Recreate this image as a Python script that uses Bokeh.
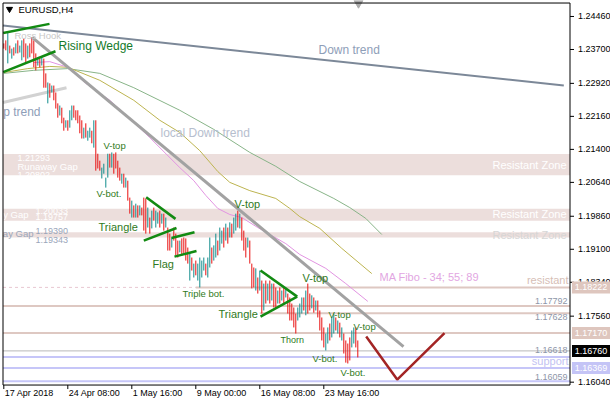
from bokeh.plotting import figure
from bokeh.models import ColumnDataSource, Range1d
from bokeh.core.properties import value
from bokeh.embed import file_html
from bokeh.resources import INLINE

# ---------------- data ----------------
symbol = "EURUSD,H4"

highs = [
    1.2384, 1.2391, 1.2409, 1.2379, 1.2372, 1.2375, 1.2384, 1.2391, 1.2379, 1.2391,
    1.2395, 1.2384, 1.2379, 1.2384, 1.2398, 1.2391, 1.2361, 1.2352, 1.2349, 1.2352,
    1.2349, 1.2315, 1.2294, 1.2292, 1.2287, 1.2287, 1.2271, 1.2246, 1.2241, 1.2236,
    1.2213, 1.2207, 1.2207, 1.2230, 1.2241, 1.2241, 1.2230, 1.2230, 1.2218, 1.2207,
    1.2190, 1.2200, 1.2183, 1.2190, 1.2183, 1.2207, 1.2207, 1.2130, 1.2114, 1.2098,
    1.2107, 1.2075, 1.2130, 1.2130, 1.2133, 1.2130, 1.2133, 1.2114, 1.2098, 1.2084,
    1.2084, 1.2075, 1.2068, 1.2029, 1.2022, 1.2011, 1.2015, 1.2011, 1.2011, 1.2006,
    1.2029, 1.2027, 1.2006, 1.1983, 1.1999, 1.2006, 1.1999, 1.1995, 1.1999, 1.1992,
    1.1992, 1.1983, 1.1960, 1.1946, 1.1937, 1.1960, 1.1946, 1.1930, 1.1930, 1.1935,
    1.1937, 1.1935, 1.1914, 1.1903, 1.1891, 1.1877, 1.1884, 1.1877, 1.1891, 1.1884,
    1.1891, 1.1877, 1.1891, 1.1937, 1.1914, 1.1919, 1.1946, 1.1930, 1.1960, 1.1953,
    1.1960, 1.1969, 1.1960, 1.1972, 1.1969, 1.1983, 1.1992, 1.1999, 1.1992, 1.1983,
    1.1953, 1.1937, 1.1937, 1.1930, 1.1877, 1.1868, 1.1866, 1.1845, 1.1861, 1.1838,
    1.1831, 1.1838, 1.1831, 1.1838, 1.1831, 1.1831, 1.1822, 1.1815, 1.1822, 1.1815,
    1.1822, 1.1822, 1.1808, 1.1799, 1.1785, 1.1776, 1.1762, 1.1776, 1.1785, 1.1799,
    1.1799, 1.1815, 1.1831, 1.1808, 1.1804, 1.1799, 1.1792, 1.1792, 1.1769, 1.1753,
    1.1730, 1.1716, 1.1730, 1.1739, 1.1753, 1.1762, 1.1753, 1.1746, 1.1741, 1.1730,
    1.1716, 1.1700, 1.1693, 1.1707, 1.1723, 1.1730, 1.1730, 1.1700,
]
lows = [
    1.2372, 1.2368, 1.2338, 1.2361, 1.2349, 1.2356, 1.2361, 1.2361, 1.2363, 1.2345,
    1.2352, 1.2340, 1.2349, 1.2352, 1.2361, 1.2329, 1.2322, 1.2333, 1.2329, 1.2333,
    1.2282, 1.2282, 1.2246, 1.2259, 1.2271, 1.2253, 1.2234, 1.2213, 1.2218, 1.2200,
    1.2183, 1.2190, 1.2183, 1.2190, 1.2207, 1.2213, 1.2207, 1.2200, 1.2177, 1.2165,
    1.2165, 1.2167, 1.2160, 1.2167, 1.2154, 1.2144, 1.2091, 1.2096, 1.2091, 1.2073,
    1.2084, 1.2052, 1.2075, 1.2098, 1.2098, 1.2084, 1.2096, 1.2075, 1.2068, 1.2061,
    1.2052, 1.2052, 1.2022, 1.1992, 1.1983, 1.1983, 1.1983, 1.1983, 1.1988, 1.1988,
    1.1953, 1.1946, 1.1960, 1.1946, 1.1958, 1.1976, 1.1960, 1.1969, 1.1960, 1.1969,
    1.1953, 1.1960, 1.1907, 1.1907, 1.1914, 1.1930, 1.1896, 1.1891, 1.1903, 1.1896,
    1.1900, 1.1884, 1.1877, 1.1838, 1.1861, 1.1845, 1.1850, 1.1838, 1.1822, 1.1845,
    1.1861, 1.1850, 1.1845, 1.1868, 1.1877, 1.1884, 1.1891, 1.1896, 1.1907, 1.1923,
    1.1914, 1.1930, 1.1923, 1.1937, 1.1937, 1.1946, 1.1953, 1.1960, 1.1958, 1.1930,
    1.1907, 1.1891, 1.1914, 1.1877, 1.1820, 1.1822, 1.1815, 1.1808, 1.1815, 1.1762,
    1.1769, 1.1785, 1.1792, 1.1785, 1.1792, 1.1776, 1.1776, 1.1785, 1.1785, 1.1792,
    1.1785, 1.1799, 1.1762, 1.1746, 1.1746, 1.1730, 1.1716, 1.1746, 1.1753, 1.1762,
    1.1769, 1.1758, 1.1762, 1.1769, 1.1774, 1.1764, 1.1769, 1.1753, 1.1723, 1.1700,
    1.1684, 1.1677, 1.1693, 1.1700, 1.1707, 1.1716, 1.1723, 1.1716, 1.1707, 1.1700,
    1.1670, 1.1649, 1.1647, 1.1654, 1.1684, 1.1693, 1.1684, 1.1661,
]
# u = bullish bar, d = bearish bar
direction = "".join([
    "ddudududuu", "dduddddudu", "ddududddud", "duduuddddd", "uduududddu",
    "uuududdddu", "duddududud", "ddududuudu", "duddudddud", "dddududuuu",
    "uduuduuduu", "dududuudud", "ddudddudud", "udududdudu", "duddddduuu",
    "duddududdd", "duuduududu", "dddduudd",
])

date_ticks = [0, 32, 64, 96, 128, 160]
date_labels = ["17 Apr 2018", "24 Apr 08:00", "1 May 16:00", "9 May 00:00",
               "16 May 08:00", "23 May 16:00"]
price_ticks = [1.2446, 1.2370, 1.2292, 1.2216, 1.2140, 1.2064, 1.1986,
               1.1910, 1.1834, 1.1756, 1.1604]
last_price = 1.16760

# moving averages (bar index, value)
ma34_x = [15, 23, 32, 41, 53, 63, 73, 88, 95, 101, 107, 113, 119, 127, 141, 148, 161, 171, 182]
ma34_y = [1.2340, 1.2342, 1.2329, 1.2292, 1.2253, 1.2211, 1.2167, 1.2098, 1.2068, 1.2034,
          1.2004, 1.1990, 1.1983, 1.1960, 1.1923, 1.1898, 1.1866, 1.1831, 1.1790]
ma55_x = [0, 12, 23, 32, 48, 65, 78, 88, 98, 107, 113, 123, 136, 143, 148, 158, 169, 184]
ma55_y = [1.2317, 1.2326, 1.2331, 1.2329, 1.2299, 1.2253, 1.2207, 1.2179, 1.2137, 1.2089,
          1.2064, 1.2045, 1.2027, 1.2004, 1.1985, 1.1958, 1.1912, 1.1854]
ma89_x = [0, 15, 32, 48, 65, 88, 105, 123, 136, 148, 165, 173, 181, 189]
ma89_y = [1.2315, 1.2322, 1.2326, 1.2315, 1.2282, 1.2230, 1.2186, 1.2133, 1.2101, 1.2066,
          1.2027, 1.2006, 1.1981, 1.1944]

# runaway gaps / resistant zones
gap_top = [1.21293, 1.20033, 1.19490]
gap_bottom = [1.20802, 1.19757, 1.19370]

# horizontal levels
resist_levels = [1.17792, 1.17170]
resist_late = 1.17628
resist_main = 1.18222
support_levels = [1.16618, 1.16369, 1.16059]

# trend / pattern lines : (x0, y0, x1, y1) in bar index and price
down_trend = [-0.4, 1.2425, 280, 1.2287]
local_down = [14.2, 1.2398, 199.85, 1.1686]
up_trend = [-0.4, 1.2248, 31.35, 1.2282]
green_lines = [
    [-0.3, 1.2408, 22.85, 1.2429],   # rising wedge upper
    [-0.3, 1.2318, 25.85, 1.2366],   # rising wedge lower
    [71.2, 1.2030, 85.85, 1.1980],   # triangle 1 upper
    [70.0, 1.1930, 86.35, 1.1959],   # triangle 1 lower
    [83.85, 1.1936, 95.35, 1.1949],  # flag upper
    [85.35, 1.1893, 96.35, 1.1906],  # flag lower
    [128.35, 1.1861, 146.7, 1.1801], # triangle 2 upper
    [128.35, 1.1755, 146.7, 1.1801], # triangle 2 lower
]
projection_x = [181.2, 196.7, 220.35]
projection_y = [1.1709, 1.1610, 1.1717]

pattern_labels = [  # text, x, y, size
    ("V-top", 49.85, 1.2149, "9.5px"),
    ("V-bot.", 46.35, 1.2038, "9.5px"),
    ("Triangle", 47.35, 1.1962, "11px"),
    ("Flag", 74.35, 1.1877, "11px"),
    ("Triple bot.", 89.35, 1.1808, "9.5px"),
    ("V-top", 115.35, 1.2015, "11px"),
    ("Triangle", 107.35, 1.1762, "11px"),
    ("Thorn", 138.35, 1.1700, "9px"),
    ("V-top", 149.35, 1.1843, "11px"),
    ("V-top", 162.35, 1.1760, "9.5px"),
    ("V-top", 174.85, 1.1732, "9.5px"),
    ("V-bot.", 154.35, 1.1658, "9.5px"),
    ("V-bot.", 168.35, 1.1626, "9.5px"),
]

# ---------------- figure ----------------
# whole canvas in chart units: bar index horizontally, price vertically
CX0, CX1 = -1.65, 303.35
CY0, CY1 = 1.15618, 1.24828
# chart frame inside the canvas (price panel), the right strip holds the price scale
FX0, FX1 = -0.4, 283.1
FY0, FY1 = 1.15974, 1.24770
PX = 0.00023026          # price per screen pixel
BX = 0.5                 # bars per screen pixel
FONT = "Liberation Sans"

p = figure(width=610, height=400, x_range=Range1d(CX0, CX1), y_range=Range1d(CY0, CY1),
           output_backend="svg", toolbar_location=None, title=None,
           x_axis_location=None, y_axis_location=None,
           min_border_left=0, min_border_top=0, min_border_right=0, min_border_bottom=0)
p.grid.grid_line_color = None
p.outline_line_color = None
p.background_fill_color = "white"
p.border_fill_color = "white"

# bands
p.quad(left=[FX0] * 3, right=[FX1] * 3, top=gap_top, bottom=gap_bottom,
       fill_color="#ECDEDC", line_color=None)

# horizontal levels
p.segment(x0=[FX0], y0=[resist_main], x1=[96], y1=[resist_main],
          line_color="#E8C8D2", line_width=1, line_dash="3 3")
p.segment(x0=[96], y0=[resist_main], x1=[FX1], y1=[resist_main],
          line_color="#DEC8C2", line_width=2)
p.segment(x0=[FX0] * 2, y0=resist_levels, x1=[FX1] * 2, y1=resist_levels,
          line_color="#DEC8C2", line_width=2)
p.segment(x0=[128], y0=[resist_late], x1=[FX1], y1=[resist_late],
          line_color="#DEC8C2", line_width=2)
p.segment(x0=[FX0] * 3, y0=support_levels, x1=[FX1] * 3, y1=support_levels,
          line_color="#C6C6F8", line_width=2)
p.segment(x0=[FX0], y0=[last_price], x1=[FX1], y1=[last_price],
          line_color="#B8B8B8", line_width=1)

# moving averages
p.line(ma89_x, ma89_y, line_color="#88B488", line_width=1)
p.line(ma55_x, ma55_y, line_color="#BDB450", line_width=1)
p.line(ma34_x, ma34_y, line_color="#E294E2", line_width=1)

# trend lines
p.segment(x0=[up_trend[0]], y0=[up_trend[1]], x1=[up_trend[2]], y1=[up_trend[3]],
          line_color="#D2D2D2", line_width=3)
p.segment(x0=[down_trend[0]], y0=[down_trend[1]], x1=[down_trend[2]], y1=[down_trend[3]],
          line_color="#7C8898", line_width=2)

# bars
n = min(len(highs), len(lows), len(direction))
colors = ["#108C8C" if d == "u" else "#E81010" for d in direction[:n]]
src = ColumnDataSource(dict(x=list(range(n)), hi=highs[:n], lo=lows[:n], c=colors))
p.segment(x0="x", y0="lo", x1="x", y1="hi", line_color="c", line_width=1, source=src)

p.segment(x0=[local_down[0]], y0=[local_down[1]], x1=[local_down[2]], y1=[local_down[3]],
          line_color="#A2A2A2", line_width=3)
p.segment(x0=[g[0] for g in green_lines], y0=[g[1] for g in green_lines],
          x1=[g[2] for g in green_lines], y1=[g[3] for g in green_lines],
          line_color="#128A12", line_width=2.5)
p.line(projection_x, projection_y, line_color="#A32424", line_width=2.5)


def txt(x, y, s, color, size, align="left", baseline="middle"):
    p.text(x=[x], y=[y], text=[s], text_color=color, text_font=value(FONT),
           text_font_size=size, text_align=align, text_baseline=baseline)


# gap labels (the left part of two of them runs off the chart's left edge)
txt(6.85, 1.2121, "1.21293", "white", "9px")
txt(6.85, 1.2101, "Runaway Gap", "white", "9.5px")
txt(6.85, 1.2082, "1.20802", "white", "9px")
txt(12.35, 1.1990, "y Gap", "white", "9.5px", "right")
txt(15.85, 1.1999, "1.20033", "white", "9px")
txt(15.85, 1.1984, "1.19757", "white", "9px")
txt(14.85, 1.1946, "ay Gap", "#9AA6BA", "9.5px", "right")
txt(15.85, 1.1953, "1.19390", "#9AA6BA", "9px")
txt(15.85, 1.1932, "1.19343", "#9AA6BA", "9px")
txt(281.35, 1.2103, "Resistant Zone", "white", "11px", "right")
txt(281.35, 1.1992, "Resistant Zone", "white", "11px", "right")
txt(281.35, 1.1942, "Resistant Zone", "#D6D6D6", "11px", "right")

# trend texts
txt(5.35, 1.2402, "Ross Hook", "#C8C8C8", "9.5px")
txt(27.35, 1.2379, "Rising Wedge", "#137A2A", "12px")
txt(157.35, 1.2368, "Down trend", "#8E9EB8", "12px")
txt(78.35, 1.2177, "local Down trend", "#B6BECE", "12px")
txt(18.35, 1.2225, "p trend", "#8E9EB8", "12px", "right")
txt(187.85, 1.1847, "MA Fibo - 34; 55; 89", "#E2A6E2", "11px")
txt(282.35, 1.1840, "resistant", "#D6BEB6", "11px", "right")
txt(282.35, 1.1652, "support", "#C2C2F2", "11px", "right")
txt(281.85, 1.1790, "1.17792", "#8E96A8", "9px", "right")
txt(281.85, 1.1755, "1.17628", "#8E96A8", "9px", "right")
txt(281.85, 1.1677, "1.16618", "#8E96A8", "9px", "right")
txt(281.85, 1.1617, "1.16059", "#8E96A8", "9px", "right")

for s, x, y, size in pattern_labels:
    txt(x, y, s, "#2F7A22", size)

# title and markers
p.scatter([2.85], [1.2463], marker="inverted_triangle", size=6, color="black")
txt(7.35, 1.2462, symbol, "black", "9.5px")
p.scatter([177.35], [1.2477], marker="inverted_triangle", size=9, color="#ABABAB")

# frame border
p.segment(x0=[FX0, FX1, FX0, FX0], y0=[FY0, FY0, FY1, FY0],
          x1=[FX0, FX1, FX1, FX1], y1=[FY1, FY1, FY1, FY0],
          line_color="black", line_width=1)

# price scale (right) : tick marks and labels
p.segment(x0=[FX1] * len(price_ticks), y0=price_ticks,
          x1=[FX1 + 4 * BX] * len(price_ticks), y1=price_ticks,
          line_color="black", line_width=1)
p.text(x=[FX1 + 8 * BX] * len(price_ticks), y=price_ticks,
       text=[f"{t:.5f}" for t in price_ticks], text_color="black",
       text_font=value(FONT), text_font_size="9px", text_align="left",
       text_baseline="middle")

# time scale (bottom) : tick marks and labels
p.segment(x0=date_ticks, y0=[FY0] * len(date_ticks), x1=date_ticks,
          y1=[FY0 - 4 * PX] * len(date_ticks), line_color="black", line_width=1)
p.text(x=[t + 1 * BX for t in date_ticks], y=[FY0 - 2.5 * PX] * len(date_ticks),
       text=date_labels, text_color="black", text_font=value(FONT),
       text_font_size="9px", text_align="left", text_baseline="top")

# price boxes on the scale
box_prices = [resist_main, resist_levels[1], last_price, support_levels[1]]
box_colors = ["#DEC6BE", "#DEC6BE", "black", "#C4C4F6"]
p.quad(left=[FX1 + 2 * BX] * 4, right=[FX1 + 40 * BX] * 4,
       top=[b + 6 * PX for b in box_prices], bottom=[b - 6 * PX for b in box_prices],
       fill_color=box_colors, line_color=None)
p.text(x=[FX1 + 21 * BX] * 4, y=box_prices, text=[f"{b:.5f}" for b in box_prices],
       text_color="white", text_font=value(FONT), text_font_size="9px",
       text_align="center", text_baseline="middle")

open("out.html", "w").write(file_html(p, INLINE))
